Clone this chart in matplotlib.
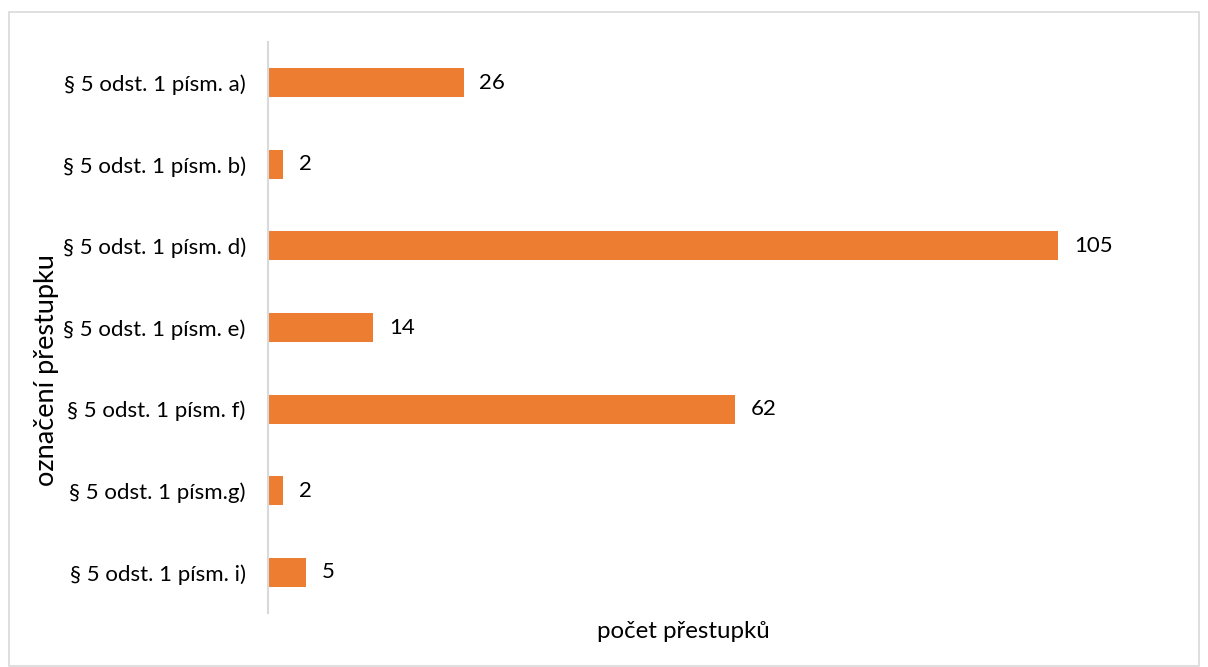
import matplotlib.pyplot as plt
from matplotlib.patches import Rectangle

# data
kategorie = ['§ 5 odst. 1 písm. a)', '§ 5 odst. 1 písm. b)', '§ 5 odst. 1 písm. d)',
             '§ 5 odst. 1 písm. e)', '§ 5 odst. 1 písm. f)', '§ 5 odst. 1 písm.g)',
             '§ 5 odst. 1 písm. i)']
pocty = [26, 2, 105, 14, 62, 2, 5]

plt.rcParams['font.family'] = ['Lato', 'DejaVu Sans']

fig = plt.figure(figsize=(12.08, 6.67), dpi=100)
ax = fig.add_axes([268 / 1208, 1 - 613 / 667, (1190 - 268) / 1208, (613 - 42) / 667])

y = list(range(len(kategorie)))
ax.barh(y, pocty, height=0.355, color='#ED7D31')
for yi, v in zip(y, pocty):
    ax.text(v + 2.1, yi, str(v), va='center', ha='left', fontsize=16, color='#000000')

ax.set_yticks(y)
ax.set_yticklabels(kategorie, fontsize=16)
ax.set_ylim(6.5, -0.5)
ax.set_xlim(0, 122.5)
ax.set_xticks([])
ax.tick_params(axis='y', length=0, pad=16)

for s in ['top', 'right', 'bottom']:
    ax.spines[s].set_visible(False)
ax.spines['left'].set_color('#D9D9D9')
ax.spines['left'].set_linewidth(1.5)

# popisky os
fig.text(683 / 1208, 1 - 632 / 667, 'počet přestupků', ha='center', va='center', fontsize=17.3)
fig.text(47 / 1208, 1 - 370 / 667, 'označení přestupku', ha='center', va='center',
         rotation=90, fontsize=19.5)

# ramecek grafu
fig.patches.append(Rectangle((8.5 / 1208, 1 / 667), 1190 / 1208, 654 / 667,
                             transform=fig.transFigure, fill=False,
                             edgecolor='#D9D9D9', linewidth=1.2))

plt.savefig('out.png', dpi=100)
